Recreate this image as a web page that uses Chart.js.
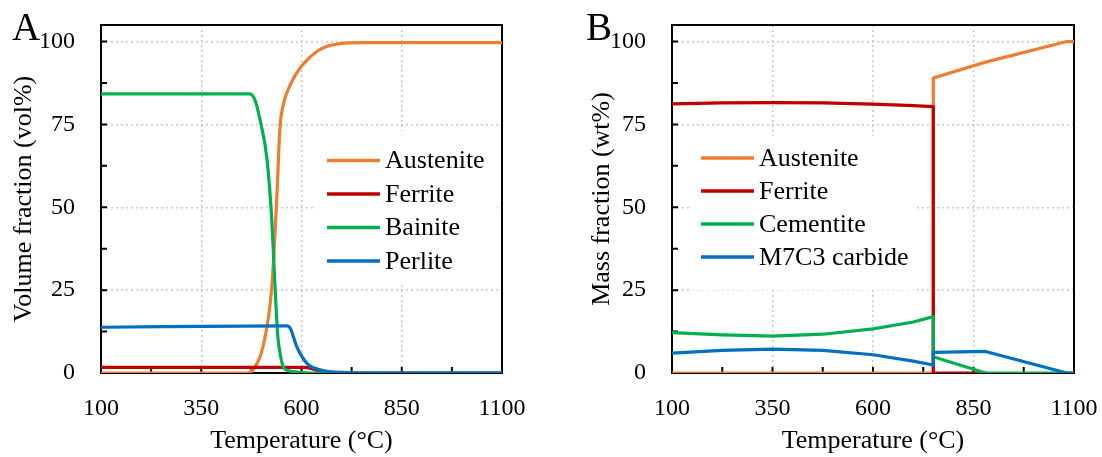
<!DOCTYPE html>
<html><head><meta charset="utf-8">
<script src="https://cdn.jsdelivr.net/npm/chart.js@4"></script>
<style>
html,body{margin:0;padding:0;background:#fff;}
#wrap{position:relative;width:1102px;height:457px;overflow:hidden;background:#fff;}
canvas{position:absolute;top:0;}
.tag{position:absolute;font-family:"Liberation Serif",serif;font-size:39px;line-height:39px;color:#000;}
</style></head>
<body>
<div id="wrap">
  <canvas id="cA" width="551" height="457" style="left:0px"></canvas>
  <canvas id="cB" width="551" height="457" style="left:551px"></canvas>
  <div class="tag" style="left:12px;top:7px">A</div>
  <div class="tag" style="left:586px;top:7px">B</div>
</div>
<script>
// ---- tick labels ----
const xTicks = [100, 350, 600, 850, 1100];
const xTickLabels = ['100', '350', '600', '850', '1100'];
const yTicks = [0, 25, 50, 75, 100];
const yTickLabels = ['0', '25', '50', '75', '100'];
const xMinor = [225, 350, 475, 600, 725, 850, 975];
const yMinor = [12.5, 25, 37.5, 50, 62.5, 75, 87.5, 100];

// ---- Panel A: volume fraction ----
const aAusT = [100, 466, 485, 504, 526, 539, 546, 554, 571, 601, 638, 671, 713, 760, 1100];
const aAusV = [0, 0, 2, 8, 26, 54.5, 73.6, 80.6, 86.7, 92.7, 97, 98.8, 99.6, 99.7, 99.7];
const aFerT = [100, 610, 640, 670, 710, 1100];
const aFerV = [1.7, 1.7, 0.8, 0.2, 0, 0];
const aBaiT = [100, 471, 485, 496, 514, 526, 534, 541, 548, 554, 565, 579, 620, 1100];
const aBaiV = [84.2, 84.2, 82, 76.7, 64.5, 46, 26, 11, 5, 2, 0.8, 0.4, 0, 0];
const aPerT = [100, 564, 572, 588, 613, 646, 700, 760, 1100];
const aPerV = [13.8, 14.2, 13.5, 8, 3, 1, 0.2, 0, 0];

// ---- Panel B: mass fraction ----
const bAusT = [100, 750, 750, 880, 1082, 1100];
const bAusV = [0, 0, 89, 93.8, 100, 100];
const bFerT = [100, 225, 350, 475, 600, 700, 750, 750, 882];
const bFerV = [81.2, 81.5, 81.6, 81.5, 81.1, 80.7, 80.4, 0, 0];
const bCemT = [100, 225, 350, 475, 600, 700, 750, 750, 880, 1100];
const bCemV = [12.2, 11.5, 11.1, 11.7, 13.3, 15.4, 17.0, 4.9, 0, 0];
const bM7T = [100, 225, 350, 475, 600, 700, 750, 750, 880, 1082, 1100];
const bM7V = [6.0, 6.8, 7.2, 6.8, 5.5, 3.6, 2.4, 6.2, 6.5, 0, 0];

const COL = {orange: '#ED7D31', red: '#C00000', green: '#00B050', blue: '#0070C0'};
const FONT = '"Liberation Serif", "Times New Roman", serif';

function pts(T, V) { return T.map((t, i) => ({x: t, y: V[i]})); }

const framePlugin = {
  id: 'frameTicks',
  beforeDatasetsDraw(chart, args, opts) {
    const {ctx, chartArea: a, scales: {x, y}} = chart;
    ctx.save();
    const b = opts.legendBox;
    ctx.fillStyle = '#fff';
    ctx.fillRect(b[0], b[1], b[2] - b[0], b[3] - b[1]);
    ctx.strokeStyle = '#000';
    ctx.lineWidth = 2;
    ctx.strokeRect(a.left, a.top, a.right - a.left, a.bottom - a.top);
    ctx.beginPath();
    xMinor.forEach(v => { const p = x.getPixelForValue(v); ctx.moveTo(p, a.bottom); ctx.lineTo(p, a.bottom - 6); });
    yMinor.forEach(v => { const p = y.getPixelForValue(v); ctx.moveTo(a.left, p); ctx.lineTo(a.left + 6, p); });
    ctx.stroke();
    ctx.restore();
  },
  afterDatasetsDraw(chart, args, opts) {
    const {ctx} = chart;
    ctx.save();
    ctx.font = '26px ' + FONT;
    ctx.textBaseline = 'middle';
    ctx.textAlign = 'left';
    chart.data.datasets.forEach((ds, i) => {
      const yy = opts.legendY0 + i * opts.legendDy;
      ctx.strokeStyle = ds.borderColor;
      ctx.lineWidth = 3.5;
      ctx.beginPath();
      ctx.moveTo(opts.lx0, yy);
      ctx.lineTo(opts.lx1, yy);
      ctx.stroke();
      ctx.fillStyle = '#000';
      ctx.fillText(ds.label, opts.tx, yy + 1);
    });
    ctx.restore();
  }
};

function zeroPad(s) { s.paddingTop = 0; s.paddingBottom = 0; s.paddingLeft = 0; s.paddingRight = 0; }

function makeChart(id, datasets, cfg) {
  return new Chart(document.getElementById(id), {
    type: 'line',
    data: {datasets},
    options: {
      responsive: false,
      animation: false,
      events: [],
      layout: {padding: {left: 0, top: 25, right: cfg.padRight, bottom: 0}},
      elements: {point: {radius: 0}},
      plugins: {
        legend: {display: false},
        tooltip: {enabled: false},
        frameTicks: cfg.frame
      },
      scales: {
        x: {
          type: 'linear', min: 100, max: 1100,
          afterBuildTicks: s => { s.ticks = xTicks.map(v => ({value: v})); },
          afterFit: s => { s.height = 84; zeroPad(s); },
          grid: {color: '#c8c8c8', lineWidth: 1.5, drawTicks: false},
          border: {display: false, dash: [2, 3]},
          ticks: {padding: 21, color: '#000', font: {family: FONT, size: 24}, maxRotation: 0, autoSkip: false,
                  callback: (v, i) => xTickLabels[i]},
          title: {display: true, text: 'Temperature (°C)', color: '#000', font: {family: FONT, size: 26},
                  padding: {top: 0, bottom: 0}}
        },
        y: {
          type: 'linear', min: 0, max: 105,
          afterBuildTicks: s => { s.ticks = yTicks.map(v => ({value: v})); },
          afterFit: s => { s.width = cfg.yWidth; zeroPad(s); },
          grid: {color: '#c8c8c8', lineWidth: 1.5, drawTicks: false},
          border: {display: false, dash: [2, 3]},
          ticks: {padding: 26, color: '#000', font: {family: FONT, size: 24}, autoSkip: false,
                  callback: (v, i) => yTickLabels[i]},
          title: {display: true, text: cfg.yTitle, color: '#000', font: {family: FONT, size: 26},
                  padding: {top: cfg.yTitlePad, bottom: 0}}
        }
      }
    },
    plugins: [framePlugin]
  });
}

const lineA = {fill: false, borderWidth: 3.2, cubicInterpolationMode: 'monotone', borderJoinStyle: 'round'};
makeChart('cA', [
  Object.assign({label: 'Austenite', data: pts(aAusT, aAusV), borderColor: COL.orange, order: 3}, lineA),
  Object.assign({label: 'Ferrite', data: pts(aFerT, aFerV), borderColor: COL.red, order: 2}, lineA),
  Object.assign({label: 'Bainite', data: pts(aBaiT, aBaiV), borderColor: COL.green, order: 1}, lineA),
  Object.assign({label: 'Perlite', data: pts(aPerT, aPerV), borderColor: COL.blue, order: 0}, lineA)
], {
  padRight: 49, yWidth: 101, yTitle: 'Volume fraction (vol%)', yTitlePad: 9,
  frame: {legendBox: [315, 131, 497, 283], legendY0: 160.5, legendDy: 33.5, lx0: 327, lx1: 380, tx: 385}
});

const lineB = {fill: false, borderWidth: 3.2, tension: 0, borderJoinStyle: 'round'};
makeChart('cB', [
  Object.assign({label: 'Austenite', data: pts(bAusT, bAusV), borderColor: COL.orange, order: 3}, lineB),
  Object.assign({label: 'Ferrite', data: pts(bFerT, bFerV), borderColor: COL.red, order: 2}, lineB),
  Object.assign({label: 'Cementite', data: pts(bCemT, bCemV), borderColor: COL.green, order: 1}, lineB),
  Object.assign({label: 'M7C3 carbide', data: pts(bM7T, bM7V), borderColor: COL.blue, order: 0}, lineB)
], {
  padRight: 28, yWidth: 121, yTitle: 'Mass fraction (wt%)', yTitlePad: 36,
  frame: {legendBox: [141, 136, 366, 290], legendY0: 158, legendDy: 33, lx0: 150, lx1: 203, tx: 208}
});
</script>
</body></html>
